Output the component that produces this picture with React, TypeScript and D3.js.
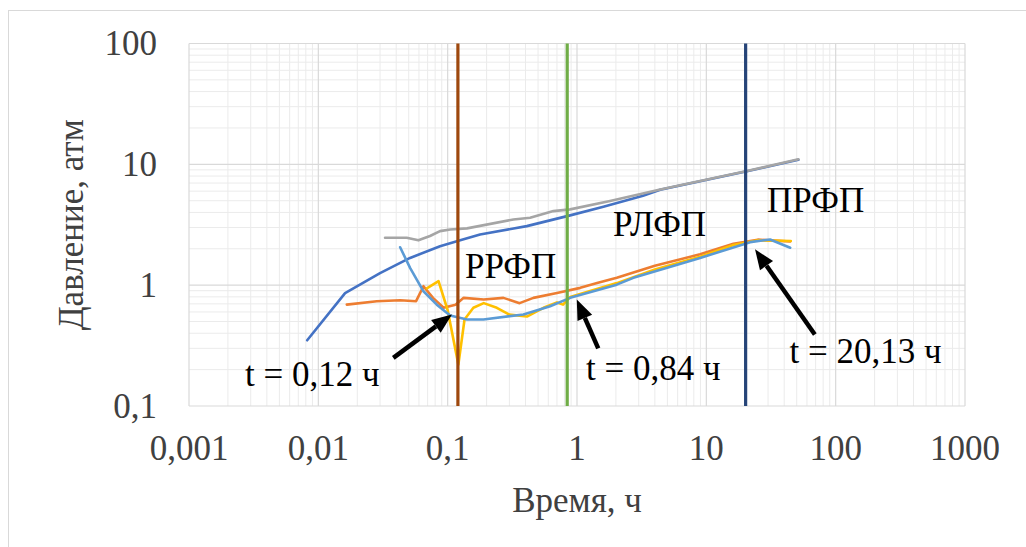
import { useEffect, useRef } from 'react';
import * as d3 from 'd3';

// Time (h) / pressure (atm)
const timeBlue = [0.0082, 0.0161, 0.03, 0.0512, 0.0873, 0.125, 0.178, 0.409, 0.885, 1.6, 3.24, 4.4, 20.6, 51.5];
const presBlue = [0.35, 0.86, 1.26, 1.68, 2.1, 2.35, 2.63, 3.08, 3.78, 4.45, 5.5, 6.15, 8.75, 10.9];

const timeOrange = [0.0166, 0.0283, 0.0429, 0.057, 0.065, 0.077, 0.093, 0.115, 0.133, 0.19, 0.27, 0.36, 0.46, 0.7, 1.06, 1.43, 2.03, 4, 8.95, 16.2, 25, 44.5];
const presOrange = [0.69, 0.737, 0.75, 0.737, 0.98, 0.785, 0.65, 0.69, 0.785, 0.76, 0.785, 0.71, 0.785, 0.86, 0.95, 1.04, 1.15, 1.45, 1.8, 2.2, 2.38, 2.3];

const timeGray = [0.0328, 0.0482, 0.0594, 0.073, 0.0873, 0.1045, 0.141, 0.322, 0.434, 0.657, 0.885, 1.8, 4.4, 20.6, 51.5];
const presGray = [2.47, 2.47, 2.35, 2.55, 2.8, 2.89, 2.95, 3.5, 3.61, 4.1, 4.24, 4.97, 6.2, 8.8, 11.0];

const timeYellow = [0.069, 0.085, 0.1, 0.121, 0.135, 0.158, 0.19, 0.24, 0.3, 0.41, 0.55, 0.7, 0.78, 0.885, 2.03, 4, 8.95, 16.2, 25, 45];
const presYellow = [0.94, 1.08, 0.62, 0.22, 0.52, 0.65, 0.71, 0.65, 0.57, 0.55, 0.65, 0.72, 0.69, 0.8, 1.04, 1.35, 1.72, 2.15, 2.35, 2.32];

const timeLight = [0.0429, 0.0512, 0.065, 0.0824, 0.1045, 0.141, 0.189, 0.385, 0.62, 0.885, 2.03, 2.73, 8.95, 21.8, 31.1, 44.5];
const presLight = [2.06, 1.39, 0.89, 0.69, 0.561, 0.52, 0.52, 0.572, 0.67, 0.785, 1.01, 1.15, 1.68, 2.27, 2.39, 2.04];

// regime boundaries, h
const boundaryTimes = [0.84, 20.13, 0.12];
const boundaryColors = ['#70AD47', '#264478', '#9E480E'];

const xTicks = [0.001, 0.01, 0.1, 1, 10, 100, 1000];
const xTickLabels = ['0,001', '0,01', '0,1', '1', '10', '100', '1000'];
const yTicks = [0.1, 1, 10, 100];
const yTickLabels = ['0,1', '1', '10', '100'];

const regimeLabels = ['РРФП', 'РЛФП', 'ПРФП'];
const regimeX = [0.136, 1.9, 29.5];
const regimeY = [1.15, 2.55, 4.05];

const noteLabels = ['t = 0,12 ч', 't = 0,84 ч', 't = 20,13 ч'];
const noteX = [0.00271, 1.175, 43.9];
const noteY = [0.1456, 0.1655, 0.227];
const arrowTailX = [0.038, 1.46, 69];
const arrowTailY = [0.25, 0.3, 0.39];
const arrowHeadX = [0.108, 0.996, 23.8];
const arrowHeadY = [0.572, 0.76, 1.98];

const W = 1026;
const H = 547;
const margin = { left: 189, right: 61, top: 43.5, bottom: 141 };
const serif = '"Liberation Serif", "Times New Roman", serif';
const fs = '35px';

const App = () => {
  const svgRef = useRef<SVGSVGElement | null>(null);

  useEffect(() => {
    const svg = d3.select(svgRef.current);
    svg.selectAll('*').remove();

    const x = d3.scaleLog().domain([0.001, 1000]).range([margin.left, W - margin.right]);
    const y = d3.scaleLog().domain([0.1, 100]).range([H - margin.bottom, margin.top]);

    // outer chart frame
    svg.append('rect')
      .attr('x', 8.5).attr('y', 10.5)
      .attr('width', 1040).attr('height', 560)
      .attr('fill', '#fff').attr('stroke', '#d9d9d9');

    const x0 = x(0.001), x1 = x(1000), y0 = y(0.1), y1 = y(100);

    // minor grid
    const minorX: number[] = [];
    const minorY: number[] = [];
    for (let d = -3; d < 3; d++) for (let k = 2; k <= 9; k++) minorX.push(k * Math.pow(10, d));
    for (let d = -1; d < 2; d++) for (let k = 2; k <= 9; k++) minorY.push(k * Math.pow(10, d));

    const grid = svg.append('g');
    grid.selectAll('.mx').data(minorX).enter().append('line')
      .attr('x1', d => x(d)).attr('x2', d => x(d))
      .attr('y1', y1).attr('y2', y0)
      .attr('stroke', '#ebebeb').attr('stroke-width', 1);
    grid.selectAll('.my').data(minorY).enter().append('line')
      .attr('x1', x0).attr('x2', x1)
      .attr('y1', d => y(d)).attr('y2', d => y(d))
      .attr('stroke', '#ebebeb').attr('stroke-width', 1);
    grid.selectAll('.Mx').data(xTicks).enter().append('line')
      .attr('x1', d => x(d)).attr('x2', d => x(d))
      .attr('y1', y1).attr('y2', y0)
      .attr('stroke', '#d9d9d9').attr('stroke-width', 1.2);
    grid.selectAll('.My').data(yTicks).enter().append('line')
      .attr('x1', x0).attr('x2', x1)
      .attr('y1', d => y(d)).attr('y2', d => y(d))
      .attr('stroke', '#d9d9d9').attr('stroke-width', 1.2);

    // series
    const line = d3.line<[number, number]>().x(d => x(d[0])).y(d => y(d[1]));
    const series: [number[], number[], string][] = [
      [timeBlue, presBlue, '#4472C4'],
      [timeOrange, presOrange, '#ED7D31'],
      [timeGray, presGray, '#A5A5A5'],
      [timeYellow, presYellow, '#FFC000'],
      [timeLight, presLight, '#5B9BD5'],
    ];
    series.forEach(([ts, ps, c]) => {
      svg.append('path')
        .datum(ts.map((t, i) => [t, ps[i]] as [number, number]))
        .attr('d', line)
        .attr('fill', 'none')
        .attr('stroke', c)
        .attr('stroke-width', 2.6)
        .attr('stroke-linejoin', 'round')
        .attr('stroke-linecap', 'round');
    });

    // vertical boundaries
    boundaryTimes.forEach((t, i) => {
      svg.append('line')
        .attr('x1', x(t)).attr('x2', x(t))
        .attr('y1', y1).attr('y2', y0)
        .attr('stroke', boundaryColors[i]).attr('stroke-width', 3.2);
    });

    // tick labels
    svg.selectAll('.xt').data(xTicks).enter().append('text')
      .attr('x', d => x(d)).attr('y', y0 + 54)
      .attr('text-anchor', 'middle')
      .style('font-family', serif).style('font-size', fs).attr('fill', '#404040')
      .text((d, i) => xTickLabels[i]);
    svg.selectAll('.yt').data(yTicks).enter().append('text')
      .attr('x', x0 - 32).attr('y', d => y(d) + 11.5)
      .attr('text-anchor', 'end')
      .style('font-family', serif).style('font-size', fs).attr('fill', '#404040')
      .text((d, i) => yTickLabels[i]);

    // axis titles
    svg.append('text')
      .attr('x', x(1)).attr('y', 512)
      .attr('text-anchor', 'middle')
      .style('font-family', serif).style('font-size', fs).attr('fill', '#404040')
      .text('Время, ч');
    svg.append('text')
      .attr('transform', `translate(83,${(y0 + y1) / 2}) rotate(-90)`)
      .attr('text-anchor', 'middle')
      .style('font-family', serif).style('font-size', fs).attr('fill', '#404040')
      .text('Давление, атм');

    // regime labels
    regimeLabels.forEach((s, i) => {
      svg.append('text')
        .attr('x', x(regimeX[i])).attr('y', y(regimeY[i]))
        .style('font-family', serif).style('font-size', fs).attr('fill', '#000')
        .text(s);
    });

    // arrows + notes
    noteLabels.forEach((s, i) => {
      const tx = x(arrowTailX[i]), ty = y(arrowTailY[i]);
      const hx = x(arrowHeadX[i]), hy = y(arrowHeadY[i]);
      const ang = Math.atan2(hy - ty, hx - tx);
      const len = 20, half = 8;
      const bx = hx - len * Math.cos(ang), by = hy - len * Math.sin(ang);
      svg.append('line')
        .attr('x1', tx).attr('y1', ty).attr('x2', bx).attr('y2', by)
        .attr('stroke', '#000').attr('stroke-width', 4.5);
      const pts: [number, number][] = [
        [hx, hy],
        [bx + half * Math.sin(ang), by - half * Math.cos(ang)],
        [bx - half * Math.sin(ang), by + half * Math.cos(ang)],
      ];
      svg.append('polygon')
        .attr('points', pts.map(p => p.join(',')).join(' '))
        .attr('fill', '#000');
      svg.append('text')
        .attr('x', x(noteX[i])).attr('y', y(noteY[i]))
        .style('font-family', serif).style('font-size', fs).attr('fill', '#000')
        .text(s);
    });
  }, []);

  return (
    <svg
      ref={svgRef}
      width={W}
      height={H}
      style={{ position: 'fixed', left: 0, top: 0, background: '#fff' }}
    />
  );
};

export default App;
